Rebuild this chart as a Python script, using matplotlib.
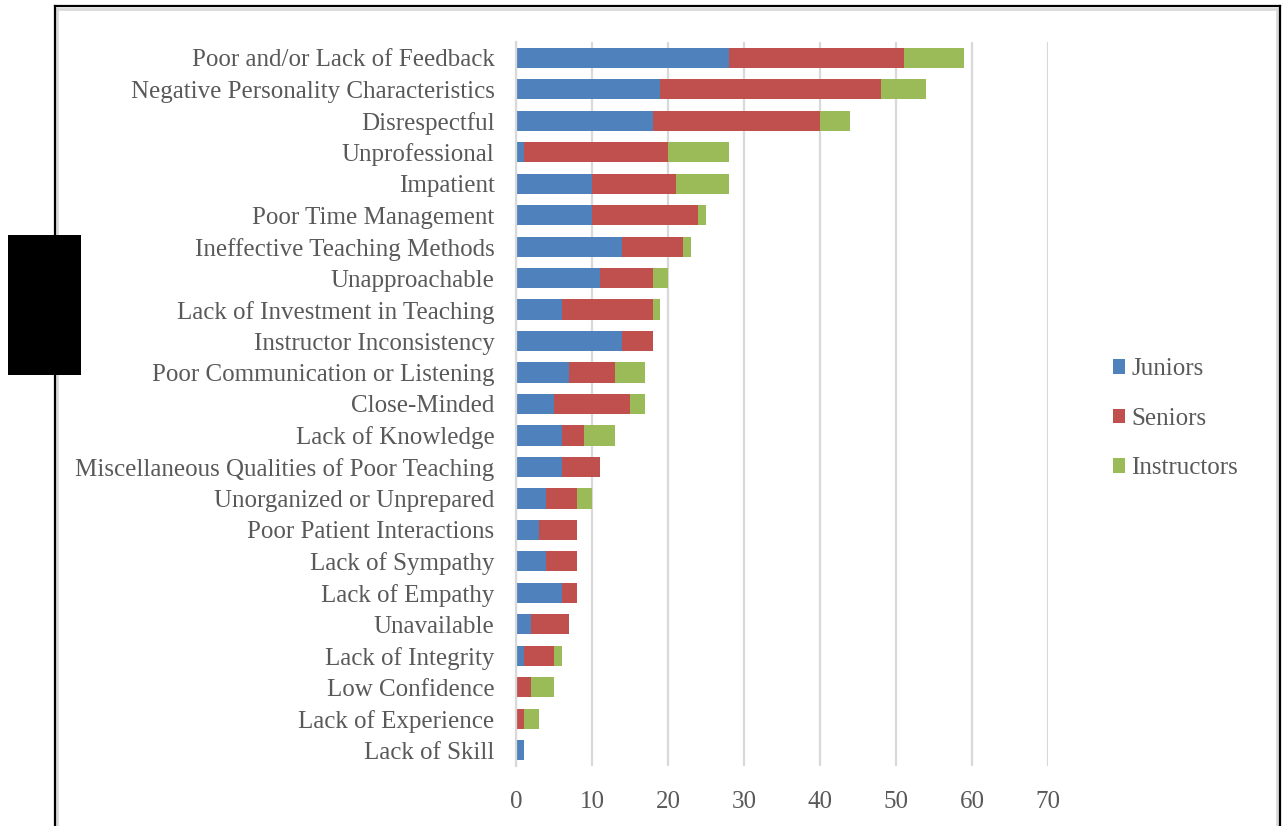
import numpy as np
import matplotlib.pyplot as plt
from matplotlib.lines import Line2D
from matplotlib.patches import Rectangle

categories = [
    'Poor and/or Lack of Feedback',
    'Negative Personality Characteristics',
    'Disrespectful',
    'Unprofessional',
    'Impatient',
    'Poor Time Management',
    'Ineffective Teaching Methods',
    'Unapproachable',
    'Lack of Investment in Teaching',
    'Instructor Inconsistency',
    'Poor Communication or Listening',
    'Close-Minded',
    'Lack of Knowledge',
    'Miscellaneous Qualities of Poor Teaching',
    'Unorganized or Unprepared',
    'Poor Patient Interactions',
    'Lack of Sympathy',
    'Lack of Empathy',
    'Unavailable',
    'Lack of Integrity',
    'Low Confidence',
    'Lack of Experience',
    'Lack of Skill',
]
juniors = [28, 19, 18, 1, 10, 10, 14, 11, 6, 14, 7, 5, 6, 6, 4, 3, 4, 6, 2, 1, 0, 0, 1]
seniors = [23, 29, 22, 19, 11, 14, 8, 7, 12, 4, 6, 10, 3, 5, 4, 5, 4, 2, 5, 4, 2, 1, 0]
instructors = [8, 6, 4, 8, 7, 1, 1, 2, 1, 0, 4, 2, 4, 0, 2, 0, 0, 0, 0, 1, 3, 2, 0]
x_ticks = [0, 10, 20, 30, 40, 50, 60, 70]

W, H = 1287, 826
fig = plt.figure(figsize=(W / 100, H / 100), dpi=100)
fig.patch.set_facecolor('white')
plt.rcParams['font.family'] = ['Liberation Serif', 'DejaVu Serif']
txt = '#595959'

ax = fig.add_axes([516 / W, 60 / H, (1048 - 516) / W, (766 - 42) / H])

y = np.arange(len(categories))
j = np.array(juniors)
s = np.array(seniors)
i = np.array(instructors)
ax.barh(y, j, height=0.64, color='#4F81BD', label='Juniors', zorder=3)
ax.barh(y, s, left=j, height=0.64, color='#C0504D', label='Seniors', zorder=3)
ax.barh(y, i, left=j + s, height=0.64, color='#9BBB59', label='Instructors', zorder=3)

ax.set_ylim(len(categories) - 0.5, -0.5)
ax.set_xlim(0, 70)
ax.set_xticks(x_ticks)
ax.set_yticks(y)
ax.set_yticklabels(categories, fontsize=18, color=txt)
ax.tick_params(axis='x', labelsize=18, labelcolor=txt, length=0, pad=18)
ax.tick_params(axis='y', length=0, pad=15.5)
ax.grid(axis='x', color='#D9D9D9', linewidth=1.6, zorder=0)
for side in ['top', 'right', 'bottom']:
    ax.spines[side].set_visible(False)
ax.spines['left'].set_color('#D9D9D9')
ax.spines['left'].set_linewidth(1.6)
ax.spines['left'].set_zorder(4)

fig.legend(loc='center left', bbox_to_anchor=(1090 / W, 1 - 419 / H), frameon=False,
           fontsize=18, labelcolor=txt, handlelength=0.5, handleheight=0.5,
           handletextpad=0.25, labelspacing=1.1)

# outer frame with light shadow
def fx(px):
    return px / W

def fy(py):
    return 1 - py / H

for xs, ys, c, lw in [
    ([57, 57], [826, 9], '#D9D9D9', 2),
    ([57, 1277], [9, 9], '#D9D9D9', 2),
    ([1277, 1277], [9, 826], '#D9D9D9', 2),
    ([55, 55], [826, 6], 'black', 1.6),
    ([55, 1280], [6, 6], 'black', 1.6),
    ([1280, 1280], [6, 826], 'black', 1.6),
]:
    fig.add_artist(Line2D([fx(v) for v in xs], [fy(v) for v in ys], color=c, linewidth=lw))

fig.add_artist(Rectangle((fx(8), fy(375)), fx(81) - fx(8), fy(235) - fy(375),
                         facecolor='black', edgecolor='none', zorder=10))

fig.savefig('out.png', dpi=100)
